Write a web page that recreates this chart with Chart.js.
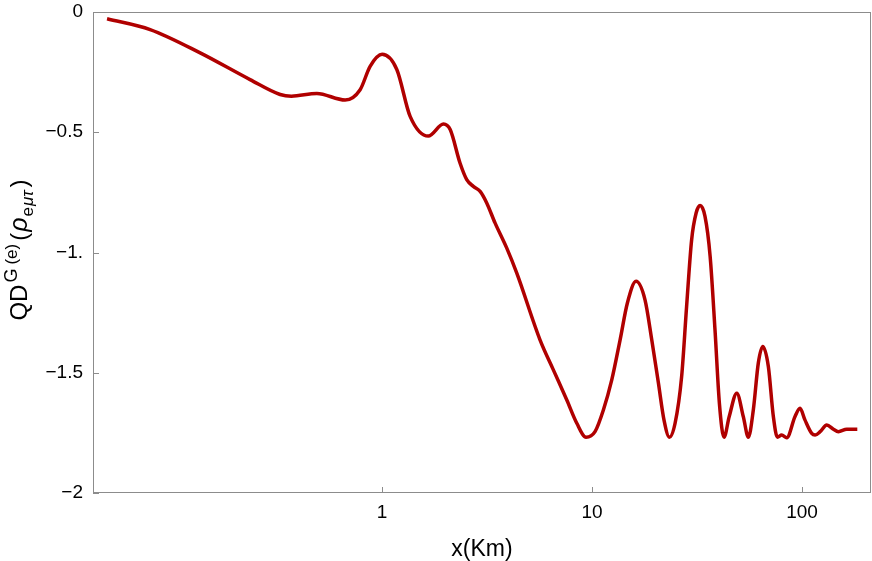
<!DOCTYPE html>
<html>
<head>
<meta charset="utf-8">
<script src="https://cdn.jsdelivr.net/npm/chart.js@4"></script>
<style>
  html, body { margin: 0; padding: 0; background: #fff; }
  #box { width: 872px; height: 561px; }
</style>
</head>
<body>
<div id="box"><canvas id="grafico"></canvas></div>
<script>
// valores (x em Km, escala log)
let distancia = [0.049, 0.0786, 0.136, 0.235, 0.327, 0.37, 0.489, 0.667, 0.786, 0.877, 1.0, 1.175, 1.36, 1.66, 1.96, 2.11, 2.35, 2.53, 2.72, 2.93, 3.15, 3.45, 3.92, 4.38, 5.65, 6.54, 7.58, 8.46, 9.36, 10.33, 11.32, 12.41, 13.6, 14.73, 16.2, 17.87, 19.24, 20.7, 22.0, 23.35, 24.85, 26.7, 28.2, 29.8, 31.3, 32.7, 34.5, 36.5, 38.5, 40.4, 42.5, 45.0, 48.9, 52.5, 55.5, 58.6, 61.9, 65.0, 69.1, 73.0, 76.3, 80.0, 84.6, 92.6, 97.8, 103.2, 111.2, 115.4, 121.9, 131.2, 141.0, 148.9, 163.3, 183.3];
let qd        = [-0.028, -0.073, -0.17, -0.281, -0.343, -0.350, -0.339, -0.366, -0.323, -0.226, -0.176, -0.239, -0.434, -0.516, -0.466, -0.489, -0.628, -0.697, -0.725, -0.746, -0.794, -0.877, -0.981, -1.086, -1.363, -1.488, -1.613, -1.710, -1.768, -1.745, -1.655, -1.530, -1.363, -1.210, -1.120, -1.197, -1.363, -1.543, -1.696, -1.768, -1.710, -1.516, -1.224, -0.947, -0.836, -0.805, -0.850, -1.016, -1.322, -1.627, -1.768, -1.682, -1.585, -1.682, -1.768, -1.655, -1.460, -1.391, -1.474, -1.682, -1.768, -1.759, -1.770, -1.682, -1.648, -1.696, -1.752, -1.759, -1.745, -1.717, -1.735, -1.745, -1.735, -1.735];
let ticksX = [1, 10, 100];
let ticksY = [0, -0.5, -1, -1.5, -2];
let rotulosY = ["0", "\u22120.5", "\u22121.", "\u22121.5", "\u22122"];

let fonte = "'Liberation Sans', Arial, sans-serif";

// moldura + marcas internas, estilo Mathematica
let moldura = {
  id: 'moldura',
  afterDatasetsDraw(chart) {
    let { ctx, chartArea: a, scales } = chart;
    ctx.save();
    ctx.strokeStyle = '#8c8c8c';
    ctx.lineWidth = 1;
    ctx.strokeRect(Math.round(a.left) + 0.5, Math.round(a.top) + 0.5, Math.round(a.right - a.left) - 1, Math.round(a.bottom - a.top) - 1);
    ctx.beginPath();
    ticksX.forEach(v => {
      let px = Math.round(scales.x.getPixelForValue(v)) + 0.5;
      ctx.moveTo(px, a.bottom);
      ctx.lineTo(px, a.bottom - 6);
    });
    ticksY.forEach(v => {
      let py = Math.round(scales.y.getPixelForValue(v)) + 0.5;
      ctx.moveTo(a.left, py);
      ctx.lineTo(a.left + 6, py);
    });
    ctx.stroke();
    ctx.restore();
  }
};

// título do eixo y com sobrescrito e subscrito
let tituloY = {
  id: 'tituloY',
  afterDraw(chart) {
    let ctx = chart.ctx;
    let partes = [
      { t: 'QD', f: '24px ' + fonte, dy: 0, gap: 2 },
      { t: 'G', f: '18px ' + fonte, dy: -10, gap: 4 },
      { t: '(e)', f: '17px ' + fonte, dy: -10, gap: 3 },
      { t: '(', f: '24px ' + fonte, dy: 0, gap: 1 },
      { t: '\u03c1', f: 'italic 25px ' + fonte, dy: 0, gap: 1 },
      { t: 'e', f: '17px ' + fonte, dy: 6, gap: 1 },
      { t: '\u03bc\u03c4', f: 'italic 17px ' + fonte, dy: 6, gap: 3 },
      { t: ')', f: '24px ' + fonte, dy: 0, gap: 0 }
    ];
    ctx.save();
    let total = 0;
    partes.forEach(p => { ctx.font = p.f; p.w = ctx.measureText(p.t).width; total += p.w + p.gap; });
    ctx.translate(27, 250);
    ctx.rotate(-Math.PI / 2);
    ctx.fillStyle = '#000';
    ctx.textBaseline = 'alphabetic';
    let x = -total / 2;
    partes.forEach(p => {
      ctx.font = p.f;
      ctx.fillText(p.t, x, p.dy);
      x += p.w + p.gap;
    });
    ctx.restore();
  }
};

let ctx = document.getElementById('grafico').getContext('2d');

let grafico = new Chart(ctx, {
  type: 'line',
  data: {
    datasets: [{
      data: distancia.map((x, i) => ({ x: x, y: qd[i] })),
      borderColor: '#b00000',
      borderWidth: 3.5,
      pointRadius: 0,
      fill: false,
      cubicInterpolationMode: 'monotone'
    }]
  },
  options: {
    responsive: true,
    maintainAspectRatio: false,
    animation: false,
    events: [],
    layout: { padding: { top: 12, right: 1, left: 0, bottom: 0 } },
    plugins: { legend: { display: false }, tooltip: { enabled: false } },
    scales: {
      x: {
        type: 'logarithmic',
        min: 0.042,
        max: 213,
        afterBuildTicks: s => { s.ticks = ticksX.map(v => ({ value: v })); },
        afterFit: s => { s.height = 68; s.paddingLeft = 0; s.paddingRight = 0; },
        grid: { display: false, drawTicks: false },
        border: { display: false },
        ticks: {
          color: '#000',
          padding: 8,
          maxRotation: 0,
          font: { family: fonte, size: 19 },
          callback: v => String(v)
        },
        title: {
          display: true,
          text: 'x(Km)',
          color: '#000',
          font: { family: fonte, size: 23 },
          padding: { top: 0, bottom: -2 }
        }
      },
      y: {
        min: -2,
        max: 0,
        afterBuildTicks: s => { s.ticks = ticksY.map(v => ({ value: v })); },
        afterFit: s => { s.width = 93; s.paddingTop = 0; s.paddingBottom = 0; },
        grid: { display: false, drawTicks: false },
        border: { display: false },
        ticks: {
          color: '#000',
          padding: 10,
          font: { family: fonte, size: 19 },
          callback: v => rotulosY[ticksY.indexOf(v)]
        }
      }
    }
  },
  plugins: [moldura, tituloY]
});
</script>
</body>
</html>
